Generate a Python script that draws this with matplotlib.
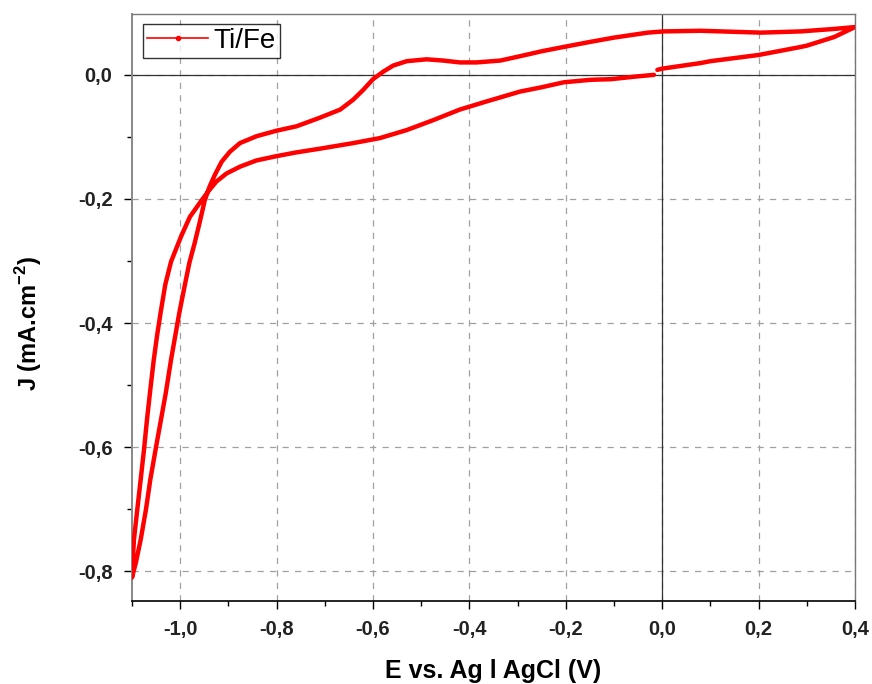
import matplotlib
matplotlib.use("Agg")
import matplotlib.pyplot as plt
from matplotlib.lines import Line2D
from matplotlib.ticker import MultipleLocator, FuncFormatter

plt.rcParams['font.family'] = ['Liberation Sans', 'DejaVu Sans']

# cyclic voltammogram, Ti/Fe  (E in V vs Ag|AgCl, J in mA/cm2)
# scan starts near 0 V, goes up to 0.4 V, down to -1.1 V and back
E_fwd = [-0.01, 0.0, 0.08, 0.1, 0.2, 0.288, 0.3, 0.357, 0.4]
J_fwd = [0.008, 0.010, 0.019, 0.022, 0.032, 0.045, 0.047, 0.061, 0.077]

E_back = [0.4, 0.357, 0.288, 0.205, 0.08, 0.003, -0.03, -0.10, -0.15,
          -0.204, -0.25, -0.295, -0.336, -0.385, -0.42, -0.454, -0.489,
          -0.53, -0.558, -0.579, -0.60, -0.62, -0.641, -0.668, -0.71,
          -0.759, -0.80, -0.842, -0.876, -0.897, -0.914, -0.928, -0.939,
          -0.949, -0.960, -0.970, -0.981, -0.991, -1.002, -1.019, -1.030,
          -1.040, -1.050, -1.062, -1.071, -1.082, -1.092, -1.1]
J_back = [0.077, 0.074, 0.070, 0.068, 0.071, 0.070, 0.068, 0.060, 0.053,
          0.045, 0.038, 0.030, 0.023, 0.020, 0.020, 0.023, 0.025,
          0.022, 0.015, 0.005, -0.007, -0.024, -0.040, -0.056, -0.069,
          -0.083, -0.090, -0.099, -0.110, -0.124, -0.140, -0.161, -0.180,
          -0.202, -0.239, -0.271, -0.303, -0.341, -0.384, -0.459, -0.513,
          -0.556, -0.599, -0.652, -0.700, -0.749, -0.786, -0.81]

E_ret = [-1.1, -1.099, -1.096, -1.089, -1.082, -1.075, -1.069, -1.062,
         -1.055, -1.048, -1.040, -1.031, -1.019, -0.998, -0.980, -0.960,
         -0.942, -0.925, -0.904, -0.876, -0.842, -0.80, -0.759, -0.71,
         -0.641, -0.586, -0.53, -0.475, -0.42, -0.365, -0.295, -0.25,
         -0.204, -0.148, -0.106, -0.058, -0.017]
J_ret = [-0.81, -0.790, -0.749, -0.700, -0.652, -0.603, -0.556, -0.507,
         -0.460, -0.420, -0.380, -0.338, -0.301, -0.260, -0.229, -0.207,
         -0.188, -0.172, -0.159, -0.148, -0.138, -0.131, -0.125, -0.119,
         -0.110, -0.102, -0.089, -0.073, -0.056, -0.043, -0.027, -0.020,
         -0.012, -0.008, -0.007, -0.003, 0.0]

E = E_fwd + E_back[1:] + E_ret[1:]
J = J_fwd + J_back[1:] + J_ret[1:]

fig = plt.figure(figsize=(8.72, 6.84), dpi=100)
ax = fig.add_axes([0.1514, 0.1213, 0.8291, 0.8582])

ax.plot(E, J, color='#ff0000', lw=3.2, solid_joinstyle='round',
        solid_capstyle='round', zorder=3)

ax.axhline(0, color='#333333', lw=0.9, zorder=2)
ax.axvline(0, color='#333333', lw=0.9, zorder=2)

ax.set_xlim(-1.1, 0.4)
ax.set_ylim(-0.848, 0.098)

ax.xaxis.set_major_locator(MultipleLocator(0.2))
ax.xaxis.set_minor_locator(MultipleLocator(0.1))
ax.yaxis.set_major_locator(MultipleLocator(0.2))
ax.yaxis.set_minor_locator(MultipleLocator(0.1))
fmt = FuncFormatter(lambda v, p: f"{v:.1f}".replace('.', ',').replace('-0,0', '0,0'))
ax.xaxis.set_major_formatter(fmt)
ax.yaxis.set_major_formatter(fmt)

ax.grid(True, which='major', color='#a0a0a0', ls=(0, (5, 5)), lw=0.9, zorder=1)

ax.tick_params(which='major', direction='out', length=6, width=1, labelsize=14.5,
               pad=8, colors='black')
ax.tick_params(which='minor', direction='out', length=3.5, width=1)
for lab in ax.get_xticklabels() + ax.get_yticklabels():
    lab.set_fontweight('bold')
    lab.set_color('#222222')

for s in ['top', 'right']:
    ax.spines[s].set_color('#777777')
    ax.spines[s].set_linewidth(1.0)
ax.spines['left'].set_color('#888888')
ax.spines['left'].set_linewidth(1.4)
ax.spines['bottom'].set_color('black')
ax.spines['bottom'].set_linewidth(1.2)

ax.set_xlabel('E vs. Ag l AgCl (V)', fontsize=18, fontweight='bold', labelpad=14)
ax.set_ylabel('J (mA.cm$^{\\mathregular{-2}}$)', fontsize=17, fontweight='bold')
ax.yaxis.set_label_coords(-0.122, 0.472)

handle = Line2D([], [], color='#ff0000', lw=1.2, marker='o', markersize=3)
leg = ax.legend([handle], ['Ti/Fe'], loc='upper left', fontsize=20,
                frameon=True, fancybox=False, edgecolor='black',
                borderpad=0.15, handlelength=2.2, handletextpad=0.2,
                borderaxespad=0, bbox_to_anchor=(0.015, 0.983))
leg.get_frame().set_linewidth(1.0)

fig.savefig('out.png', dpi=100)
